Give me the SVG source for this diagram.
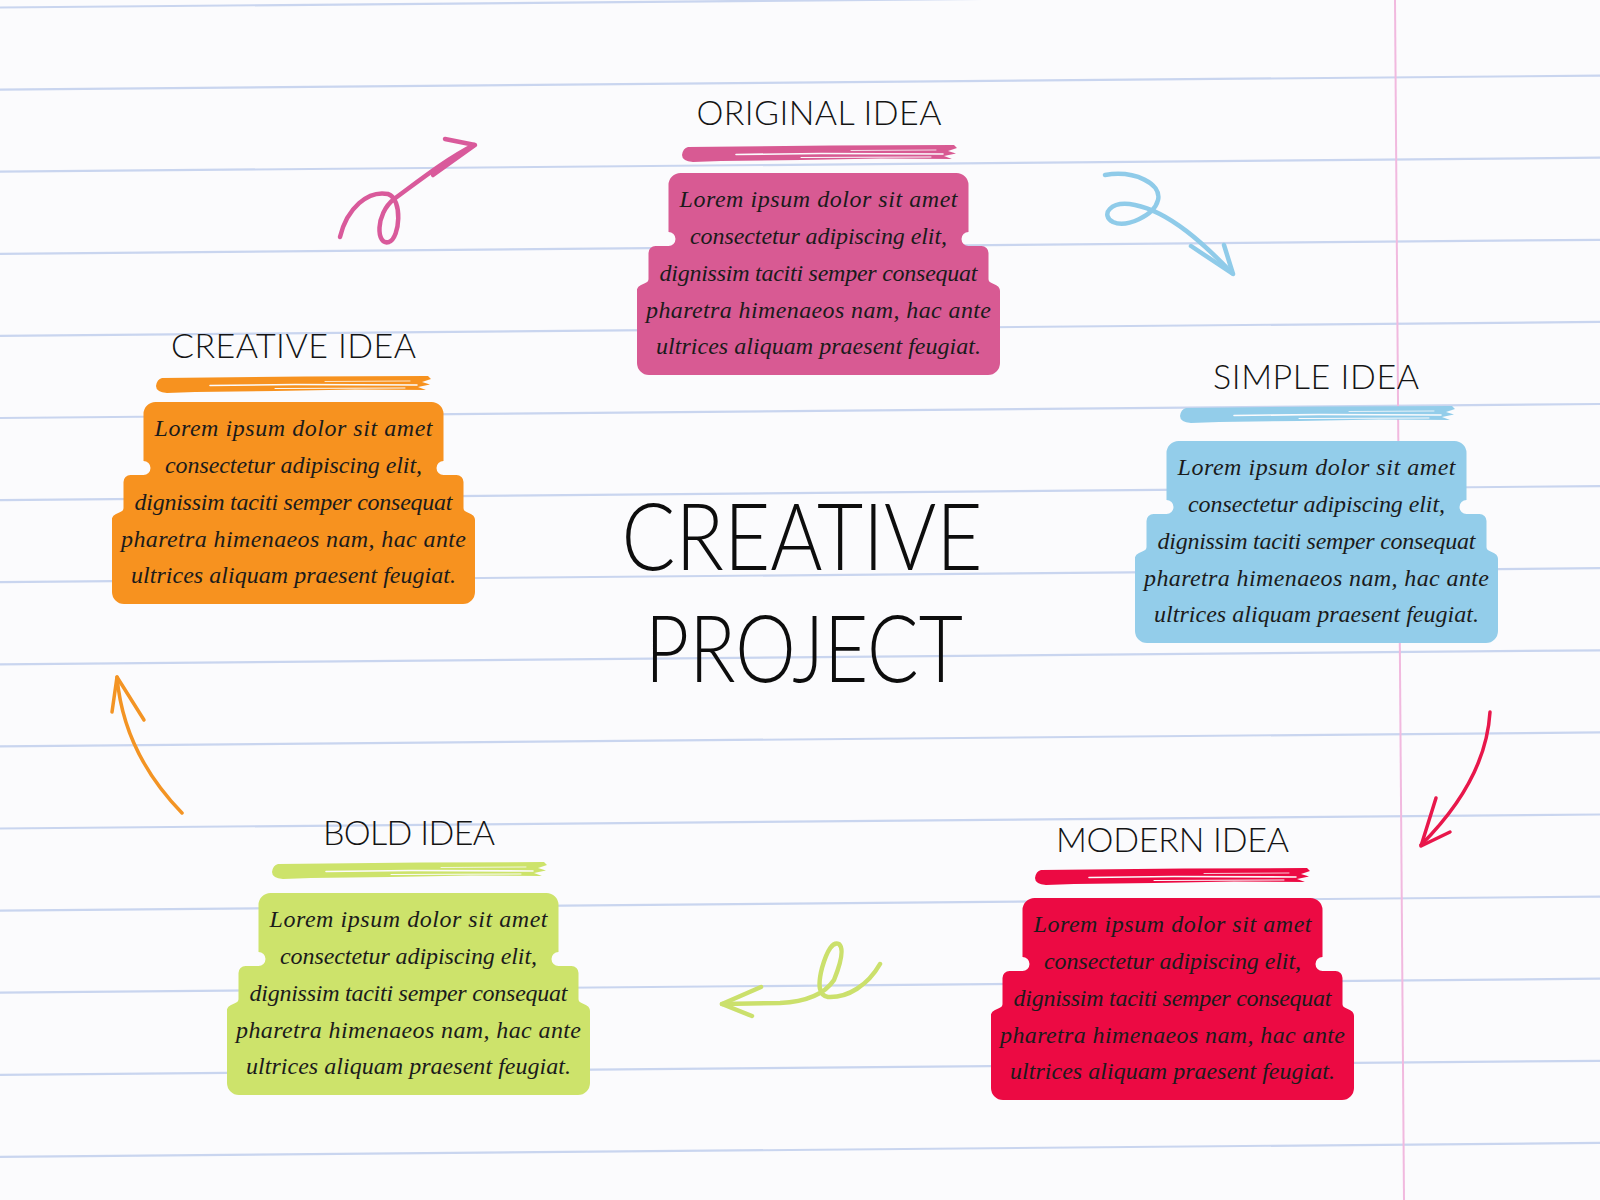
<svg xmlns="http://www.w3.org/2000/svg" xmlns:xlink="http://www.w3.org/1999/xlink" width="1600" height="1200" viewBox="0 0 1600 1200">
<style>
.rule{stroke:#c9d5ef;stroke-width:2.2;fill:none}
.body{font-family:"Liberation Serif","DejaVu Serif",serif;font-style:italic;font-size:24px;fill:#1b1b1b;text-anchor:middle}
.ttl{font-family:Lato,"Liberation Sans",sans-serif;font-weight:300;font-size:34px;fill:#141414;text-anchor:middle}
.big{font-family:Lato,"Liberation Sans",sans-serif;font-weight:300;font-size:92px;fill:#0d0d0d;text-anchor:middle}
.arr{fill:none;stroke-width:4.5;stroke-linecap:round;stroke-linejoin:round}
.streak{fill:none;stroke:#fbfbfd;stroke-linecap:round}
</style>
<defs>
<path id="box" d="M43.5,0 H319.5 A12,12 0 0 1 331.5,12 V59 A7,7 0 0 0 331.5,73 H344.5 A7,7 0 0 1 351.5,80 V106 C351.5,112 363,110 363,118 V190 A12,12 0 0 1 351,202 H12 A12,12 0 0 1 0,190 V118 C0,110 11.5,112 11.5,106 V80 A7,7 0 0 1 18.5,73 H31.5 A7,7 0 0 0 31.5,59 V12 A12,12 0 0 1 43.5,0 Z"/>
<g id="brush">
<path d="M7,2 L150,0.5 L273,0 L276,3 L267,6 L275,8.5 L263,11 L271,14 L200,13.5 L120,15 L40,16 L12,17 Q1,16 1,10 Q2,3 7,2 Z"/>
<path class="streak" stroke-width="1.6" d="M55,9.5 L140,8.5 L262,9"/>
<path class="streak" stroke-width="1" d="M120,12.5 L250,12"/>
<path class="streak" stroke-width="0.8" d="M170,5.5 L255,5"/>
</g>
</defs>
<rect width="1600" height="1200" fill="#fbfbfd"/>
<g id="paper">
<path class="rule" d="M0,7.5 L1600,-6.5"/>
<path class="rule" d="M0,89.6 L1600,75.6"/>
<path class="rule" d="M0,171.7 L1600,157.7"/>
<path class="rule" d="M0,253.8 L1600,239.8"/>
<path class="rule" d="M0,335.9 L1600,321.9"/>
<path class="rule" d="M0,418 L1600,404"/>
<path class="rule" d="M0,500.1 L1600,486.1"/>
<path class="rule" d="M0,582.2 L1600,568.2"/>
<path class="rule" d="M0,664.3 L1600,650.3"/>
<path class="rule" d="M0,746.4 L1600,732.4"/>
<path class="rule" d="M0,828.5 L1600,814.5"/>
<path class="rule" d="M0,910.6 L1600,896.6"/>
<path class="rule" d="M0,992.7 L1600,978.7"/>
<path class="rule" d="M0,1074.8 L1600,1060.8"/>
<path class="rule" d="M0,1156.9 L1600,1142.9"/>
<path d="M1395,0 L1404,1200" stroke="#f1b9df" stroke-width="2" fill="none"/>
</g>

<g id="title">
<text class="big" x="802" y="570" textLength="361" lengthAdjust="spacingAndGlyphs">CREATIVE</text>
<text class="big" x="804" y="682" textLength="318" lengthAdjust="spacingAndGlyphs">PROJECT</text>
</g>

<g id="node-original" transform="translate(637,173)">
<text class="ttl" x="182" y="-48" textLength="245">ORIGINAL IDEA</text>
<use xlink:href="#brush" href="#brush" x="44" y="-28" fill="#d85a93"/>
<use xlink:href="#box" href="#box" fill="#d85a93"/>
<text class="body" x="181.5" y="34" textLength="278">Lorem ipsum dolor sit amet</text>
<text class="body" x="181.5" y="71" textLength="257">consectetur adipiscing elit,</text>
<text class="body" x="181.5" y="108" textLength="318">dignissim taciti semper consequat</text>
<text class="body" x="181.5" y="144.5" textLength="345">pharetra himenaeos nam, hac ante</text>
<text class="body" x="181.5" y="181" textLength="325">ultrices aliquam praesent feugiat.</text>
</g>

<g id="node-simple" transform="translate(1135,441)">
<text class="ttl" x="181" y="-52" textLength="206">SIMPLE IDEA</text>
<use xlink:href="#brush" href="#brush" x="44" y="-35" fill="#93cdea"/>
<use xlink:href="#box" href="#box" fill="#93cdea"/>
<text class="body" x="181.5" y="34" textLength="278">Lorem ipsum dolor sit amet</text>
<text class="body" x="181.5" y="71" textLength="257">consectetur adipiscing elit,</text>
<text class="body" x="181.5" y="108" textLength="318">dignissim taciti semper consequat</text>
<text class="body" x="181.5" y="144.5" textLength="345">pharetra himenaeos nam, hac ante</text>
<text class="body" x="181.5" y="181" textLength="325">ultrices aliquam praesent feugiat.</text>
</g>

<g id="node-modern" transform="translate(991,898)">
<text class="ttl" x="181.5" y="-46" textLength="233">MODERN IDEA</text>
<use xlink:href="#brush" href="#brush" x="43" y="-30" fill="#ec0a43"/>
<use xlink:href="#box" href="#box" fill="#ec0a43"/>
<text class="body" x="181.5" y="34" textLength="278">Lorem ipsum dolor sit amet</text>
<text class="body" x="181.5" y="71" textLength="257">consectetur adipiscing elit,</text>
<text class="body" x="181.5" y="108" textLength="318">dignissim taciti semper consequat</text>
<text class="body" x="181.5" y="144.5" textLength="345">pharetra himenaeos nam, hac ante</text>
<text class="body" x="181.5" y="181" textLength="325">ultrices aliquam praesent feugiat.</text>
</g>

<g id="node-bold" transform="translate(227,893)">
<text class="ttl" x="182" y="-48" textLength="172">BOLD IDEA</text>
<use xlink:href="#brush" href="#brush" x="44" y="-31" fill="#cde36b"/>
<use xlink:href="#box" href="#box" fill="#cde36b"/>
<text class="body" x="181.5" y="34" textLength="278">Lorem ipsum dolor sit amet</text>
<text class="body" x="181.5" y="71" textLength="257">consectetur adipiscing elit,</text>
<text class="body" x="181.5" y="108" textLength="318">dignissim taciti semper consequat</text>
<text class="body" x="181.5" y="144.5" textLength="345">pharetra himenaeos nam, hac ante</text>
<text class="body" x="181.5" y="181" textLength="325">ultrices aliquam praesent feugiat.</text>
</g>

<g id="node-creative" transform="translate(112,402)">
<text class="ttl" x="181.5" y="-44" textLength="245">CREATIVE IDEA</text>
<use xlink:href="#brush" href="#brush" x="43" y="-26" fill="#f7921f"/>
<use xlink:href="#box" href="#box" fill="#f7921f"/>
<text class="body" x="181.5" y="34" textLength="278">Lorem ipsum dolor sit amet</text>
<text class="body" x="181.5" y="71" textLength="257">consectetur adipiscing elit,</text>
<text class="body" x="181.5" y="108" textLength="318">dignissim taciti semper consequat</text>
<text class="body" x="181.5" y="144.5" textLength="345">pharetra himenaeos nam, hac ante</text>
<text class="body" x="181.5" y="181" textLength="325">ultrices aliquam praesent feugiat.</text>
</g>

<g id="connectors">
<g stroke="#d95a9b" class="arr">
<path d="M340,237 C347,208 368,190 388,194 C403,199 400,238 389,242 C376,246 375,214 394,199 C420,180 445,160 474,145"/>
<path d="M445,139 L475,145 L433,175"/>
</g>
<g stroke="#8fcbe9" class="arr">
<path d="M1105,175 C1135,170 1162,184 1158,200 C1154,216 1126,228 1113,222 C1100,215 1110,200 1135,205 C1170,212 1205,245 1232,273"/>
<path d="M1224,245 L1233,274 L1191,246"/>
</g>
<g stroke="#e8174b" class="arr" style="stroke-width:3.5">
<path d="M1490,712 C1487,762 1460,806 1421,845"/>
<path d="M1436,798 L1421,846 L1450,832"/>
</g>
<g stroke="#cbe06c" class="arr">
<path d="M880,964 C868,985 848,998 828,997 Q815,995 822,968 Q830,940 839,944 Q846,950 834,980 Q820,1001 780,1003 L722,1004"/>
<path d="M761,987 L722,1004 L752,1016"/>
</g>
<g stroke="#f39424" class="arr" style="stroke-width:3.5">
<path d="M182,813 C150,780 122,735 117,677"/>
<path d="M112,712 L117,677 L144,720"/>
</g>
</g>
</svg>
